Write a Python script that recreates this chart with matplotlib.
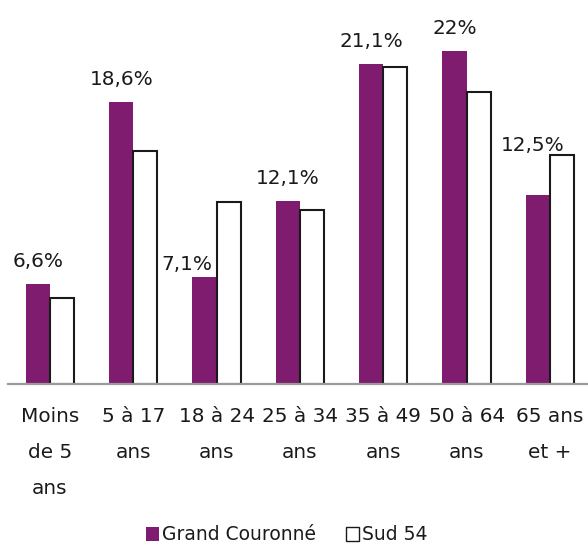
import matplotlib
matplotlib.use("Agg")
import matplotlib.pyplot as plt
from matplotlib.patches import Patch
import numpy as np

categories = ["Moins\nde 5\nans", "5 à 17\nans", "18 à 24\nans", "25 à 34\nans",
              "35 à 49\nans", "50 à 64\nans", "65 ans\net +"]
grand_couronne = [6.6, 18.6, 7.1, 12.1, 21.1, 22.0, 12.5]
sud54 = [5.7, 15.4, 12.0, 11.5, 20.9, 19.3, 15.1]
value_labels = ["6,6%", "18,6%", "7,1%", "12,1%", "21,1%", "22%", "12,5%"]
series_names = ["Grand Couronné", "Sud 54"]

purple = "#801C70"
fs = 14.4  # ~20 px

plt.rcParams['font.family'] = ['DejaVu Sans']

fig = plt.figure(figsize=(5.88, 5.48), dpi=100)
ax = fig.add_axes([8.3 / 588, 0.2987, 583.3 / 588, 0.6916])

x = np.arange(len(categories))
w = 0.29
ax.bar(x - w / 2, grand_couronne, width=w, color=purple, edgecolor="none", zorder=2)
ax.bar(x + w / 2, sud54, width=w, color="white", edgecolor="#1a1a1a", linewidth=1.5, zorder=2)

ax.set_xlim(-0.5, len(categories) - 0.5)
ax.set_ylim(0, 25)
ax.set_yticks([])
for s in ["top", "right", "left"]:
    ax.spines[s].set_visible(False)
ax.spines["bottom"].set_color("#9a9a9a")
ax.spines["bottom"].set_linewidth(1.6)

ax.set_xticks(x)
ax.set_xticklabels(categories, fontsize=fs, color="#1a1a1a", linespacing=2.12)
ax.tick_params(axis="x", length=0, pad=16.5)

# label offsets (pixels): default above purple bar
offsets = [(0, 13), (0, 13), (-18, 3), (0, 13), (0, 13), (0, 13), (-5, 0)]
for i, (v, lab) in enumerate(zip(grand_couronne, value_labels)):
    base = v if i != 6 else max(v, sud54[i])
    dx, dy = offsets[i]
    ax.annotate(lab, xy=(x[i] - w / 2, base), xytext=(dx, dy),
                textcoords="offset pixels", ha="center", va="bottom",
                fontsize=fs, color="#1a1a1a", annotation_clip=False)

handles = [Patch(facecolor=purple, edgecolor="none"),
           Patch(facecolor="white", edgecolor="#1a1a1a", linewidth=1.0)]
fig.legend(handles, series_names, loc="center", bbox_to_anchor=(287 / 588, 1 - 535 / 548),
           ncol=2, frameon=False, fontsize=13.5, handlelength=0.7, handleheight=0.7,
           handletextpad=0.15, columnspacing=1.6, labelcolor="#1a1a1a")

fig.savefig("out.png", dpi=100)
